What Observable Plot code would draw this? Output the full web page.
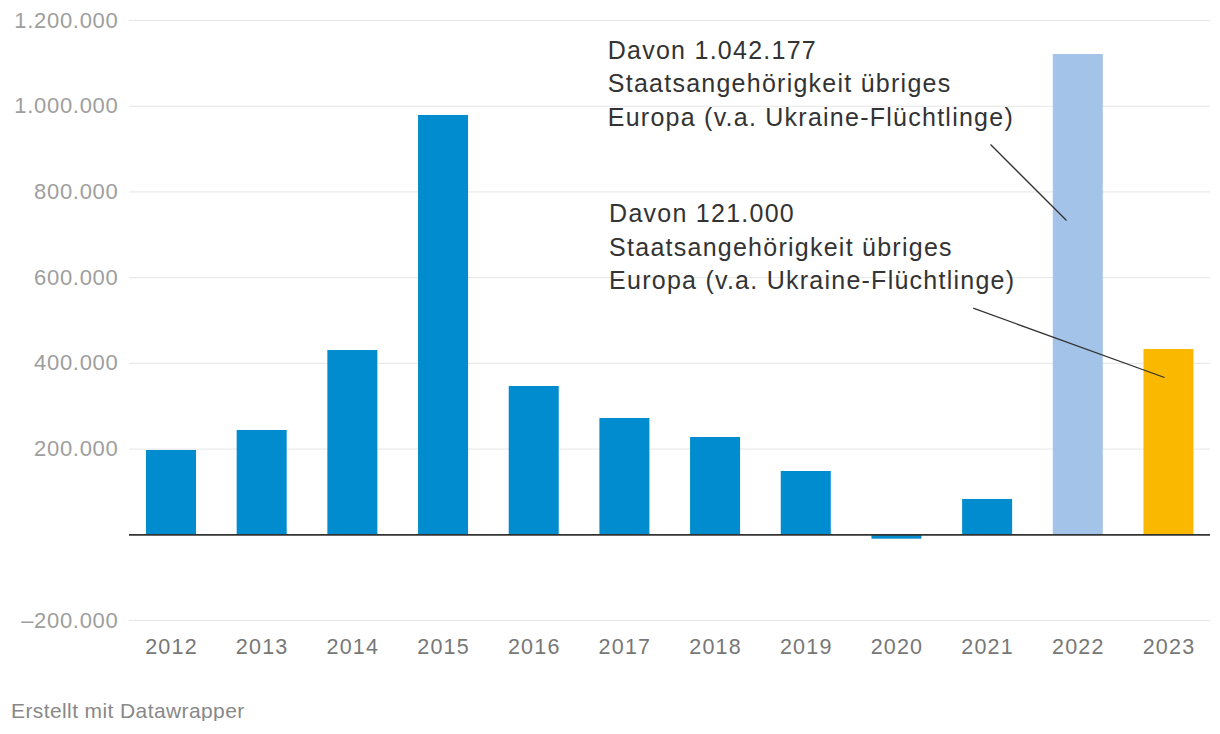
<!DOCTYPE html>
<html>
<head>
<meta charset="utf-8">
<script src="https://cdn.jsdelivr.net/npm/d3@7"></script>
<script src="https://cdn.jsdelivr.net/npm/@observablehq/plot@0.6"></script>
<style>
  body { margin: 0; background: #fff; font-family: "Liberation Sans", Arial, sans-serif; }
  #chart svg { display: block; }
  g[aria-label="y-axis tick label"] text { letter-spacing: 0.7px; }
  g[aria-label="x-axis tick label"] text { letter-spacing: 1.2px; }
  g[aria-label="text"] text { letter-spacing: 1.25px; }
  #caption { margin-top: 20px; margin-left: 11px; font-size: 21px; line-height: 21px; color: #888; letter-spacing: 0.4px; }
</style>
</head>
<body>
<div id="chart"></div>
<div id="caption">Erstellt mit Datawrapper</div>
<script>
// Data
const years = [2012, 2013, 2014, 2015, 2016, 2017, 2018, 2019, 2020, 2021, 2022, 2023];
const values = [196700, 243400, 430000, 978400, 346000, 271400, 227000, 147700, -10300, 82400, 1120700, 432400];
const yTicks = [-200000, 200000, 400000, 600000, 800000, 1000000, 1200000];

// Annotations (anchor in data coordinates: year, value)
const annotationTexts = [
  "Davon 1.042.177\nStaatsangehörigkeit übriges\nEuropa (v.a. Ukraine-Flüchtlinge)",
  "Davon 121.000\nStaatsangehörigkeit übriges\nEuropa (v.a. Ukraine-Flüchtlinge)"
];
const annotationYears = [2016.811, 2016.826];
const annotationValues = [954300, 573500];

// Connector lines
const linkYear1 = [2021.032, 2020.841];
const linkValue1 = [910700, 528700];
const linkYear2 = [2021.870, 2022.951];
const linkValue2 = [733400, 367000];

const data = years.map((year, i) => ({year, value: values[i]}));
const annotations = annotationTexts.map((text, i) => ({text, year: annotationYears[i], value: annotationValues[i]}));
const links = linkYear1.map((x1, i) => ({x1, y1: linkValue1[i], x2: linkYear2[i], y2: linkValue2[i]}));

const fmt = d3.formatLocale({decimal: ",", thousands: ".", grouping: [3], currency: ["", ""], minus: "–"}).format(",d");
const fillFor = y => y === 2022 ? "#a3c4e8" : y === 2023 ? "#fab900" : "#008ccf";
const halfBar = 0.2757;

const chart = Plot.plot({
  width: 1220,
  height: 680,
  marginTop: 20,
  marginBottom: 60,
  marginLeft: 129,
  marginRight: 10,
  style: {fontFamily: "Liberation Sans, Arial, sans-serif", background: "#fff"},
  x: {type: "linear", domain: [2011.5368, 2023.4579]},
  y: {domain: [-200000, 1200000]},
  color: {type: "identity"},
  marks: [
    Plot.gridY(yTicks, {stroke: "#e6e6e6", strokeOpacity: 1, strokeWidth: 1}),
    Plot.axisY(yTicks, {tickSize: 0, tickPadding: 11, tickFormat: fmt, fontSize: 22, color: "#9e9e9e", label: null}),
    Plot.axisX(years, {tickSize: 0, tickPadding: 18, tickFormat: d => String(d), fontSize: 21.5, color: "#777", label: null}),
    Plot.rectY(data, {x1: d => d.year - halfBar, x2: d => d.year + halfBar, y1: 0, y2: "value", fill: d => fillFor(d.year)}),
    Plot.ruleY([0], {stroke: "#333", strokeWidth: 1.8}),
    Plot.link(links, {x1: "x1", y1: "y1", x2: "x2", y2: "y2", stroke: "#333", strokeWidth: 1.3}),
    Plot.text(annotations, {x: "year", y: "value", text: "text", textAnchor: "start", lineAnchor: "bottom", lineHeight: 33.4 / 25, fontSize: 25, fill: "#333"})
  ]
});
document.getElementById("chart").appendChild(chart);
</script>
</body>
</html>
